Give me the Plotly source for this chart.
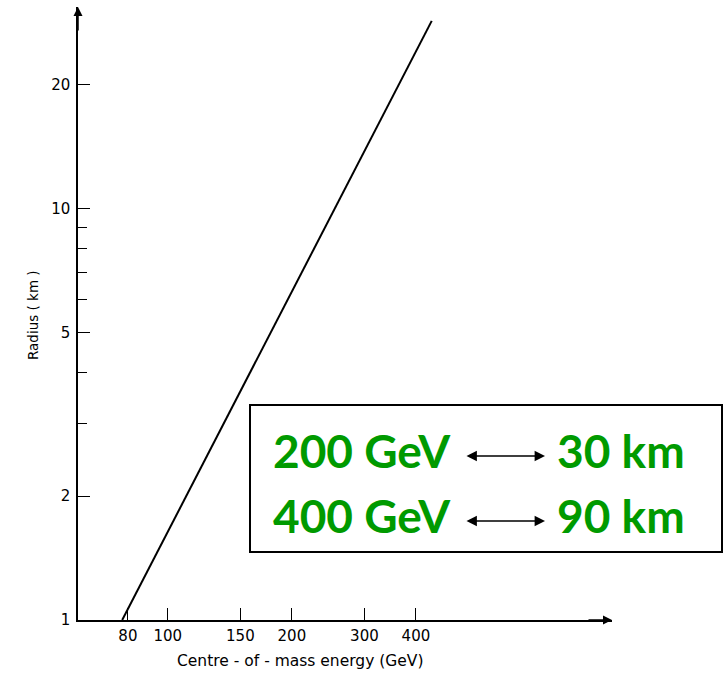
import plotly.graph_objects as go

# Data
energy_gev = [77.5, 437]
radius_km = [1.0, 28.6]

x_tickvals = [80, 100, 150, 200, 300, 400]
x_ticktext = ["80", "100", "150", "200", "300", "400"]
y_tickvals = [1, 2, 5, 10, 20]
y_ticktext = ["1", "2", "5", "10", "20"]
y_minor = [3, 4, 6, 7, 8, 9]

box_lines = [("200 GeV", "30 km"), ("400 GeV", "90 km")]

W, H = 724, 690
L, R, T, B = 78, 112, 7, 70
pw, ph = W - L - R, H - T - B

def px(xp):
    return (xp - L) / pw

def py(yp):
    return (H - B - yp) / ph

fig = go.Figure()
fig.add_trace(go.Scatter(x=energy_gev, y=radius_km, mode="lines",
                         line=dict(color="black", width=2), showlegend=False,
                         hoverinfo="skip"))

fig.update_xaxes(type="log", range=[1.782, 3.078], showgrid=False, zeroline=False,
                 showline=True, linecolor="black", linewidth=1.5,
                 ticks="inside", ticklen=12, tickwidth=1.2, tickcolor="black",
                 tickvals=x_tickvals, ticktext=x_ticktext,
                 tickfont=dict(family="DejaVu Sans", size=15, color="black"),
                 ticklabelstandoff=1)
fig.update_yaxes(type="log", range=[0, 1.49], showgrid=False, zeroline=False,
                 showline=True, linecolor="black", linewidth=1.5,
                 ticks="inside", ticklen=12, tickwidth=1.2, tickcolor="black",
                 tickvals=y_tickvals, ticktext=y_ticktext,
                 tickfont=dict(family="DejaVu Sans", size=15, color="black"),
                 ticklabelstandoff=3,
                 minor=dict(tickvals=y_minor, ticks="inside", ticklen=9,
                            tickwidth=1.2, tickcolor="black", showgrid=False))

annots = []
# axis arrowheads
annots.append(dict(x=0, y=1, xref="paper", yref="paper", ax=0, ay=25, text="",
                   showarrow=True, arrowhead=2, arrowsize=1.2, arrowwidth=1.5,
                   arrowcolor="black"))
annots.append(dict(x=1, y=0, xref="paper", yref="paper", ax=-25, ay=0, text="",
                   showarrow=True, arrowhead=2, arrowsize=1.2, arrowwidth=1.5,
                   arrowcolor="black"))
# axis titles
annots.append(dict(x=px(33), y=py(315), xref="paper", yref="paper",
                   xanchor="center", yanchor="middle",
                   text="Radius ( km )", showarrow=False, textangle=-90,
                   font=dict(family="DejaVu Sans", size=13.5, color="black")))
annots.append(dict(x=px(300), y=py(661), xref="paper", yref="paper",
                   xanchor="center", yanchor="middle",
                   text="Centre - of - mass energy (GeV)", showarrow=False,
                   font=dict(family="DejaVu Sans", size=15.5, color="black")))

green = "#009a00"
gfont = dict(family="Lato", size=46, color=green)
rows_y = [450, 515]
for (left, right), yc in zip(box_lines, rows_y):
    annots.append(dict(x=px(271), y=py(yc), xref="paper", yref="paper",
                       text="<b>%s</b>" % left, showarrow=False,
                       xanchor="left", yanchor="middle", font=gfont))
    annots.append(dict(x=px(555), y=py(yc), xref="paper", yref="paper",
                       text="<b>%s</b>" % right, showarrow=False,
                       xanchor="left", yanchor="middle", font=gfont))
    annots.append(dict(x=px(545), y=py(yc + 6), xref="paper", yref="paper",
                       ax=-80, ay=0, text="", showarrow=True,
                       arrowhead=2, startarrowhead=2, arrowside="end+start",
                       arrowsize=1.6, startarrowsize=1.6, arrowwidth=1.3,
                       arrowcolor="black"))

fig.add_shape(type="rect", xref="paper", yref="paper",
              x0=px(250), x1=px(722), y0=py(552), y1=py(405),
              line=dict(color="black", width=2), fillcolor="white", layer="below")

fig.update_layout(width=W, height=H, margin=dict(l=L, r=R, t=T, b=B),
                  plot_bgcolor="white", paper_bgcolor="white",
                  annotations=annots, showlegend=False)

fig.write_html("out.html")
